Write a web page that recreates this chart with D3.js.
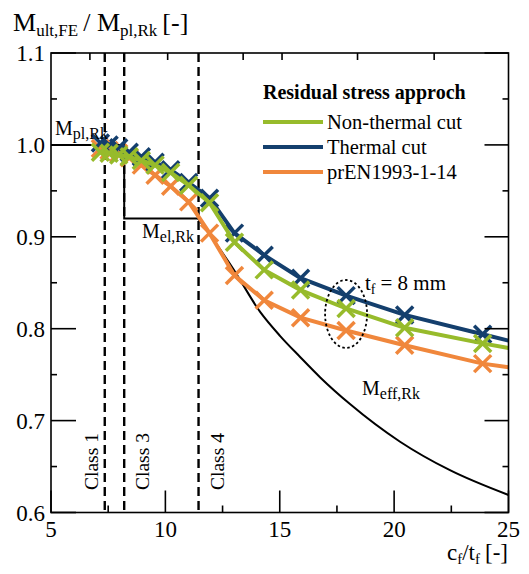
<!DOCTYPE html>
<html><head><meta charset="utf-8">
<script src="https://cdn.jsdelivr.net/npm/d3@7"></script>
<style>
body{margin:0;background:#fff}
svg{display:block}
text{font-family:"Liberation Serif","Times New Roman",serif;fill:#000}
</style>
</head><body><svg id="c" width="529" height="574"></svg>
<script>
// ---- data ----
const slenderness = [7.16, 7.54, 7.96, 8.42, 8.95, 9.55, 10.23, 11.02, 11.93, 13.02, 14.32, 15.91, 17.90, 20.46, 23.87];
const thermal     = [1.002, 1.000, 0.997, 0.992, 0.987, 0.981, 0.973, 0.959, 0.942, 0.904, 0.880, 0.855, 0.836, 0.815, 0.794];
const nonThermal  = [0.992, 0.991, 0.989, 0.987, 0.983, 0.978, 0.970, 0.956, 0.937, 0.894, 0.864, 0.842, 0.822, 0.801, 0.784];
const prEN        = [0.996, 0.994, 0.991, 0.986, 0.978, 0.967, 0.955, 0.938, 0.904, 0.858, 0.831, 0.812, 0.798, 0.782, 0.762];
const lineEndX = 25;
const thermalEnd = 0.787, nonThermalEnd = 0.779, prENEnd = 0.758;
const stepX = [5, 8.2, 8.2, 11.43];
const stepY = [1.0, 1.0, 0.92, 0.92];
const effX = [11.43, 12.97, 14.15, 15.02, 15.9, 16.77, 18.07, 20.26, 22.44, 25];
const effY = [0.920, 0.865, 0.818, 0.792, 0.769, 0.747, 0.718, 0.677, 0.646, 0.619];
const classLimits = [7.35, 8.2, 11.45];
const classLabels = ["Class 1", "Class 3", "Class 4"];
const xMajor = [5, 10, 15, 20, 25];
const xMinor = [7.5, 12.5, 17.5, 22.5];
const yMajor = [0.6, 0.7, 0.8, 0.9, 1.0, 1.1];
const yMinor = [0.65, 0.75, 0.85, 0.95, 1.05];
const topTicks = [6.7, 10.1, 13.4, 15.1, 18.4, 21.75];
const seriesNames = ["Non-thermal cut", "Thermal cut", "prEN1993-1-14"];
const seriesColors = ["#97bb2b", "#143f6d", "#f0873c"];

// ---- layout ----
const svg = d3.select("#c");
const L = 51, R = 508.5, T = 53, B = 512.5;
const x = d3.scaleLinear().domain([5, 25]).range([L, R]);
const y = d3.scaleLinear().domain([0.6, 1.1]).range([B, T]);

// dashed class limits
svg.append("g").selectAll("line").data(classLimits).join("line")
  .attr("x1", d => x(d)).attr("x2", d => x(d)).attr("y1", T).attr("y2", B)
  .attr("stroke", "#000").attr("stroke-width", 2.4).attr("stroke-dasharray", "9,5");

// class labels
const classOffsets = [-7, 25, 25];
svg.append("g").selectAll("text").data(classLabels).join("text")
  .attr("transform", (d, i) => `translate(${x(classLimits[i]) + classOffsets[i]},490) rotate(-90)`)
  .attr("font-size", 19.5).text(d => d);

// black resistance lines
const line = d3.line().x(d => x(d[0])).y(d => y(d[1]));
svg.append("path").datum(stepX.map((v, i) => [v, stepY[i]]))
  .attr("d", line).attr("fill", "none").attr("stroke", "#000").attr("stroke-width", 2);
svg.append("path").datum(effX.map((v, i) => [v, effY[i]]))
  .attr("d", line.curve(d3.curveMonotoneX)).attr("fill", "none").attr("stroke", "#000").attr("stroke-width", 2);

// series
const lin = d3.line().x(d => x(d[0])).y(d => y(d[1]));
const drawOrder = [
  {vals: prEN, end: prENEnd, color: seriesColors[2]},
  {vals: thermal, end: thermalEnd, color: seriesColors[1]},
  {vals: nonThermal, end: nonThermalEnd, color: seriesColors[0]}
];
const ms = 8.5;
drawOrder.forEach(s => {
  const pts = slenderness.map((v, i) => [v, s.vals[i]]);
  svg.append("path").datum(pts.concat([[lineEndX, s.end]])).attr("d", lin)
    .attr("fill", "none").attr("stroke", s.color).attr("stroke-width", 4);
  svg.append("g").selectAll("path").data(pts).join("path")
    .attr("d", d => { const cx = x(d[0]), cy = y(d[1]);
      return `M${cx-ms},${cy-ms}L${cx+ms},${cy+ms}M${cx-ms},${cy+ms}L${cx+ms},${cy-ms}`; })
    .attr("stroke", s.color).attr("stroke-width", 3.5).attr("fill", "none");
});

// frame & ticks
svg.append("rect").attr("x", L).attr("y", T).attr("width", R - L).attr("height", B - T)
  .attr("fill", "none").attr("stroke", "#000").attr("stroke-width", 1.6);
const tk = svg.append("g").attr("stroke", "#000").attr("stroke-width", 1.6);
xMajor.forEach(v => tk.append("line").attr("x1", x(v)).attr("x2", x(v)).attr("y1", B).attr("y2", B - 22));
xMinor.forEach(v => tk.append("line").attr("x1", x(v)).attr("x2", x(v)).attr("y1", B).attr("y2", B - 7));
topTicks.forEach(v => tk.append("line").attr("x1", x(v)).attr("x2", x(v)).attr("y1", T).attr("y2", T + 7));
yMajor.forEach(v => {
  tk.append("line").attr("x1", L).attr("x2", L + 25).attr("y1", y(v)).attr("y2", y(v));
  tk.append("line").attr("x1", R).attr("x2", R - 24).attr("y1", y(v)).attr("y2", y(v));
});
yMinor.forEach(v => {
  tk.append("line").attr("x1", L).attr("x2", L + 6).attr("y1", y(v)).attr("y2", y(v));
  tk.append("line").attr("x1", R).attr("x2", R - 6).attr("y1", y(v)).attr("y2", y(v));
});

// tick labels
svg.append("g").selectAll("text").data(xMajor).join("text")
  .attr("x", d => x(d)).attr("y", 537).attr("text-anchor", "middle").attr("font-size", 23).text(d => d);
svg.append("g").selectAll("text").data(yMajor).join("text")
  .attr("x", 45).attr("y", d => y(d)).attr("dy", "0.35em").attr("text-anchor", "end").attr("font-size", 23)
  .text(d => d3.format(".1f")(d));

// axis titles
function subText(sel, parts) {
  parts.forEach(p => {
    const t = sel.append("tspan").text(p[0]).attr("font-size", p[1]);
    if (p[2]) t.attr("dy", p[2]);
  });
}
const yt = svg.append("text").attr("x", 13).attr("y", 31);
subText(yt, [["M", 26], ["ult,FE", 17, 5], ["/ M", 26, -5], ["pl,Rk", 17, 5], ["[-]", 26, -5]]);
yt.selectAll("tspan").filter((d, i) => i === 2 || i === 4).attr("dx", 5);
const xt = svg.append("text").attr("x", 508).attr("y", 560).attr("text-anchor", "end");
subText(xt, [["c", 23], ["f", 15, 4], ["/t", 23, -4], ["f", 15, 4], ["[-]", 23, -4]]);
xt.selectAll("tspan").filter((d, i) => i === 4).attr("dx", 5);

// resistance labels
const mpl = svg.append("text").attr("x", 55).attr("y", 135);
subText(mpl, [["M", 20], ["pl,Rk", 16, 4]]);
const mel = svg.append("text").attr("x", 142).attr("y", 238);
subText(mel, [["M", 20], ["el,Rk", 16, 4]]);
const meff = svg.append("text").attr("x", 362).attr("y", 395);
subText(meff, [["M", 20], ["eff,Rk", 16, 4]]);

// t_f = 8 mm annotation
const ex = x(17.9), ey = y(0.816);
svg.append("ellipse").attr("cx", ex).attr("cy", ey).attr("rx", 21).attr("ry", 34)
  .attr("fill", "none").attr("stroke", "#000").attr("stroke-width", 1.8).attr("stroke-dasharray", "2.5,2.5");
const tf = svg.append("text").attr("x", 365).attr("y", 290);
subText(tf, [["t", 21], ["f", 14, 4], ["= 8 mm", 21, -4]]);
tf.selectAll("tspan").filter((d, i) => i === 2).attr("dx", 5);

// legend
const lg = svg.append("g");
lg.append("text").attr("x", 263).attr("y", 99).attr("font-size", 20).attr("font-weight", "bold").text("Residual stress approch");
seriesNames.forEach((n, i) => {
  const yy = 122 + i * 25;
  lg.append("line").attr("x1", 263).attr("x2", 323).attr("y1", yy).attr("y2", yy)
    .attr("stroke", seriesColors[i]).attr("stroke-width", 4);
  lg.append("text").attr("x", 327).attr("y", yy + 7).attr("font-size", 20.5).text(n);
});
</script></body></html>
